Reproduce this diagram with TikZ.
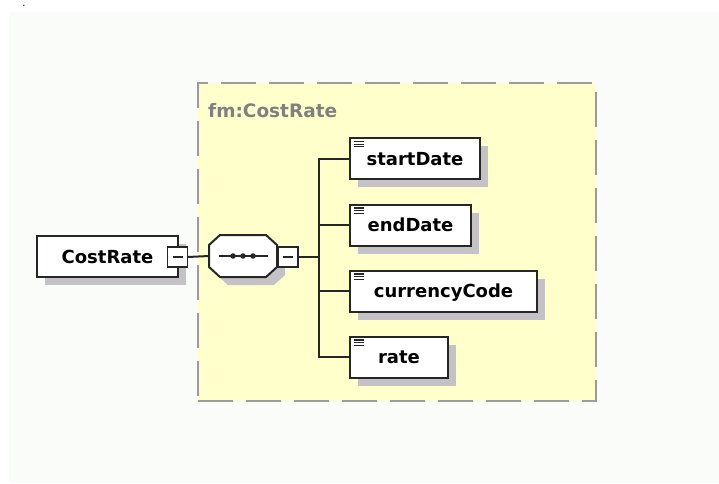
\documentclass[tikz,border=0pt]{standalone}
\usepackage{fontspec}
\setmainfont{DejaVu Sans}
\usetikzlibrary{shadows}

\definecolor{bgwhite}{HTML}{FAFCFA}
\definecolor{groupyellow}{HTML}{FFFFCC}
\definecolor{dashgray}{HTML}{9C9C9C}
\definecolor{labelgray}{HTML}{808080}
\definecolor{shadowgray}{HTML}{C4C2C6}
\definecolor{linedark}{HTML}{262626}

\begin{document}
\begin{tikzpicture}[x=1pt, y=-1pt,
    elem/.style={draw=linedark, line width=2pt, fill=white, anchor=west,
        minimum height=41pt, inner sep=0pt, outer sep=0pt,
        text height=13pt, text depth=0pt,
        font=\bfseries\fontsize{18}{20}\selectfont,
        drop shadow={shadow xshift=8pt, shadow yshift=-8pt, fill=shadowgray, opacity=1}},
    toggle/.style={draw=linedark, line width=1.6pt, fill=white, minimum size=20pt,
        inner sep=0pt, outer sep=0pt,
        path picture={\draw[linedark, line width=1.6pt]
            ([xshift=-5pt]path picture bounding box.center) --
            ([xshift=5pt]path picture bounding box.center);}},
    wire/.style={draw=linedark, line width=2pt},
    octagon/.style={line width=2pt, line join=miter}]

    \useasboundingbox (0,0) rectangle (719,483);
    \fill[bgwhite] (9,12) rectangle (719,483);
    \node (dot) [inner sep=0pt, anchor=base, font=\fontsize{10}{12}\selectfont] at (24,6.5) {.};

    % group box
    \node (group) [draw=dashgray, line width=2.5pt, dash pattern=on 35pt off 13pt,
        fill=groupyellow, anchor=north west, minimum width=398pt, minimum height=318pt,
        inner sep=0pt, outer sep=0pt] at (198,83) {};
    \node (grouplabel) [anchor=base west, inner sep=0pt, text=labelgray,
        font=\bfseries\fontsize{18.5}{20}\selectfont] at (208,117) {fm:CostRate};

    % root element and sequence
    \node (root) [elem, minimum width=141pt] at (37,256.5) {CostRate};
    \node (rootminus) [toggle] at (177.5,257) {};
    \node (seq) [minimum width=68pt, minimum height=42pt, inner sep=0pt, outer sep=0pt] at (243,256) {};
    \begin{scope}[shift={(seq.center)}]
        \fill[shadowgray, shift={(8,8)}] (-34,-11) -- (-23,-21) -- (23,-21) -- (34,-11)
            -- (34,11) -- (23,21) -- (-23,21) -- (-34,11) -- cycle;
        \draw[octagon, draw=linedark, fill=white] (-34,-11) -- (-23,-21) -- (23,-21) -- (34,-11)
            -- (34,11) -- (23,21) -- (-23,21) -- (-34,11) -- cycle;
    \end{scope}
    \draw[linedark, line width=1.6pt] ([xshift=-24pt]seq.center) -- ([xshift=25pt]seq.center);
    \foreach \dx in {-10,0,10}
        \fill[linedark] ([xshift=\dx pt]seq.center) circle (2.8pt);
    \node (seqminus) [toggle] at (288,257) {};
    \coordinate (bus) at (319,257);

    % children
    \node (start) [elem, minimum width=130pt] at (350,158.5) {startDate};
    \node (end) [elem, minimum width=121pt] at (350,225) {endDate};
    \node (currency) [elem, minimum width=187pt] at (350,291) {currencyCode};
    \node (rate) [elem, minimum width=98pt] at (350,357) {rate};

    \foreach \n in {start, end, currency, rate}
        \foreach \k in {0,1,2}
            \draw[linedark, line width=1.1pt] ([xshift=4pt, yshift={-3.5pt-\k*2.6pt}]\n.north west) -- ++(10,0);

    \draw[wire] (rootminus.east) -- (seq.west);
    \draw[wire] (seqminus.east) -- (bus);
    \draw[wire] (bus) |- (start.west);
    \draw[wire] (bus) |- (end.west);
    \draw[wire] (bus) |- (currency.west);
    \draw[wire] (bus) |- (rate.west);
\end{tikzpicture}
\end{document}
